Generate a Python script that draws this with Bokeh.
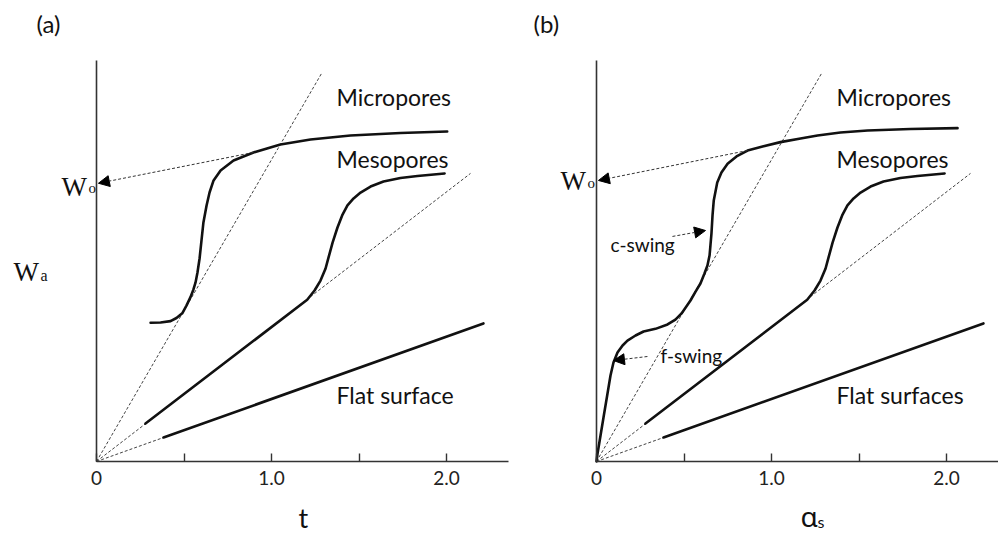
from bokeh.plotting import figure
from bokeh.models import Range1d, Label, Arrow, NormalHead, FixedTicker, LinearAxis
from bokeh.layouts import row
from bokeh.embed import file_html
from bokeh.resources import INLINE

# ---------------- data (x: t or alpha_s, y: amount adsorbed, arbitrary units) ----------------
x_ticks = [0, 0.5, 1.0, 1.5, 2.0]
x_tick_text = {0: "0", 0.5: "", 1.0: "1.0", 1.5: "", 2.0: "2.0"}

# reference (dashed) lines through the origin
micro_ref_x = [0.0, 1.288]
micro_ref_y = [0.0, 2.221]
meso_ref_x = [0.0, 2.137]
meso_ref_y = [0.0, 1.646]
flat_ref_x = [0.0, 0.383]
flat_ref_y = [0.0, 0.137]

# flat surface
flat_x = [0.383, 2.211]
flat_y = [0.137, 0.789]

# mesopores: linear multilayer part followed by capillary condensation step
meso_x = [0.280, 1.204, 1.246, 1.280, 1.309, 1.326, 1.349, 1.377, 1.406, 1.434,
          1.469, 1.509, 1.566, 1.640, 1.737, 1.834, 1.989]
meso_y = [0.217, 0.924, 0.977, 1.034, 1.103, 1.166, 1.251, 1.337, 1.411, 1.463,
          1.503, 1.537, 1.571, 1.600, 1.620, 1.631, 1.646]

# micropores, t-plot
micro_t_x = [0.309, 0.366, 0.423, 0.457, 0.490, 0.514, 0.537, 0.554, 0.566, 0.577,
             0.589, 0.600, 0.611, 0.629, 0.646, 0.669, 0.709, 0.783, 0.897, 1.051,
             1.223, 1.451, 1.737, 2.004]
micro_t_y = [0.793, 0.794, 0.802, 0.820, 0.847, 0.891, 0.939, 0.983, 1.023, 1.080,
             1.160, 1.263, 1.366, 1.463, 1.537, 1.606, 1.663, 1.720, 1.766, 1.811,
             1.840, 1.863, 1.877, 1.886]

# micropores, alpha_s plot (f-swing and c-swing)
micro_a_x = [0.000, 0.006, 0.023, 0.040, 0.061, 0.080, 0.097, 0.120, 0.149, 0.177,
             0.223, 0.269, 0.337, 0.406, 0.451, 0.486, 0.537, 0.566, 0.594, 0.617,
             0.634, 0.646, 0.651, 0.657, 0.663, 0.670, 0.690, 0.714, 0.749, 0.800,
             0.863, 0.949, 1.051, 1.166, 1.263, 1.394, 1.549, 1.794, 2.063]
micro_a_y = [0.000, 0.046, 0.149, 0.251, 0.377, 0.491, 0.566, 0.623, 0.663, 0.691,
             0.720, 0.743, 0.758, 0.783, 0.811, 0.846, 0.920, 0.971, 1.017, 1.074,
             1.120, 1.177, 1.234, 1.303, 1.406, 1.491, 1.594, 1.651, 1.701, 1.743,
             1.777, 1.800, 1.825, 1.846, 1.863, 1.880, 1.891, 1.900, 1.905]

# W0 extrapolation arrows and swing pointers (x_start, y_start, x_tip, y_tip)
w0_a = [0.897, 1.766, 0.011, 1.590]
w0_b = [0.863, 1.777, 0.011, 1.606]
c_swing_arrow = [0.434, 1.286, 0.623, 1.320]
f_swing_arrow = [0.291, 0.600, 0.097, 0.577]

PX = 175.0            # pixels per data unit (same on both axes)
SANS = "Lato"
SERIF = "Liberation Serif"
DASH = "3 2"
INK = "#111111"
AXIS = "#333333"


def panel(width, origin_px, axis_len_px):
    # the frame fills the whole canvas; the axes sit at the data origin
    p = figure(width=width, height=537,
               x_range=Range1d(-origin_px / PX, (width - origin_px) / PX),
               y_range=Range1d(-76 / PX, 461 / PX),
               x_axis_location=None, y_axis_location=None,
               output_backend="svg", toolbar_location=None,
               min_border=0)
    p.outline_line_color = None
    p.background_fill_color = "white"
    p.border_fill_color = "white"
    p.grid.visible = False

    xa = LinearAxis(fixed_location=0, bounds=(0, axis_len_px / PX))
    xa.ticker = FixedTicker(ticks=x_ticks)
    xa.major_label_overrides = x_tick_text
    xa.major_tick_in = 8
    xa.major_tick_out = 0
    xa.minor_tick_line_color = None
    xa.axis_line_color = AXIS
    xa.axis_line_width = 1.6
    xa.major_tick_line_color = AXIS
    xa.major_tick_line_width = 1.4
    xa.major_label_text_font = SANS
    xa.major_label_text_font_size = "19px"
    xa.major_label_text_color = "#222222"
    xa.major_label_standoff = 9
    p.add_layout(xa, "below")

    ya = LinearAxis(fixed_location=0, bounds=(0, 401 / PX))
    ya.ticker = FixedTicker(ticks=[])
    ya.major_tick_in = 0
    ya.major_tick_out = 0
    ya.minor_tick_line_color = None
    ya.major_label_text_font_size = "0px"
    ya.axis_line_color = AXIS
    ya.axis_line_width = 1.6
    p.add_layout(ya, "left")
    return p


def text(p, x, y, s, size, font=SANS, align="left"):
    p.add_layout(Label(x=x, y=y, text=s, text_font=font, text_font_size=size,
                       text_color="#111111", text_align=align,
                       text_baseline="alphabetic"))


def dashed(p, xs, ys):
    p.line(xs, ys, line_dash=DASH, line_width=1, line_color="#444444")


def solid(p, xs, ys):
    p.line(xs, ys, line_width=2.6, line_color=INK, line_join="round", line_cap="round")


def arrow(p, a):
    p.add_layout(Arrow(x_start=a[0], y_start=a[1], x_end=a[2], y_end=a[3],
                       line_dash=DASH, line_width=1, line_color=AXIS,
                       end=NormalHead(size=11, fill_color="black", line_color="black")))


def dx(px, origin):
    return (px - origin) / PX


def dy(py):
    return (461 - py) / PX


# ---------------- panel (a): t-plot ----------------
pa = panel(510, 96, 412)
dashed(pa, micro_ref_x, micro_ref_y)
dashed(pa, meso_ref_x, meso_ref_y)
dashed(pa, flat_ref_x, flat_ref_y)
solid(pa, flat_x, flat_y)
solid(pa, meso_x, meso_y)
solid(pa, micro_t_x, micro_t_y)
arrow(pa, w0_a)

text(pa, dx(36, 96), dy(23), "(a)", "24px")
text(pa, dx(336, 96), dy(96), "Micropores", "23px")
text(pa, dx(336, 96), dy(158), "Mesopores", "23px")
text(pa, dx(336, 96), dy(394), "Flat surface", "23px")
text(pa, dx(61, 96), dy(186), "W", "27px", SERIF)
text(pa, dx(88, 96), dy(187), "o", "15px", SERIF)
text(pa, dx(13, 96), dy(271), "W", "27px", SERIF)
text(pa, dx(40, 96), dy(275), "a", "16px", SERIF)
text(pa, dx(298, 96), dy(517), "t", "27px")

# ---------------- panel (b): alpha_s-plot ----------------
pb = panel(488, 86, 402)
dashed(pb, micro_ref_x, micro_ref_y)
dashed(pb, meso_ref_x, meso_ref_y)
dashed(pb, flat_ref_x, flat_ref_y)
solid(pb, flat_x, flat_y)
solid(pb, meso_x, meso_y)
solid(pb, micro_a_x, micro_a_y)
arrow(pb, w0_b)
arrow(pb, c_swing_arrow)
arrow(pb, f_swing_arrow)

text(pb, dx(533, 596), dy(23), "(b)", "24px")
text(pb, dx(836, 596), dy(96), "Micropores", "23px")
text(pb, dx(836, 596), dy(158), "Mesopores", "23px")
text(pb, dx(836, 596), dy(394), "Flat surfaces", "23px")
text(pb, dx(610, 596), dy(244), "c-swing", "19px")
text(pb, dx(660, 596), dy(355), "f-swing", "19px")
text(pb, dx(560, 596), dy(180), "W", "27px", SERIF)
text(pb, dx(587, 596), dy(182), "o", "15px", SERIF)
text(pb, dx(800, 596), dy(515), "\u03b1", "28px", "Noto Sans")
text(pb, dx(817, 596), dy(521), "s", "16px")

layout = row(pa, pb)
open("out.html", "w").write(file_html(layout, INLINE))
